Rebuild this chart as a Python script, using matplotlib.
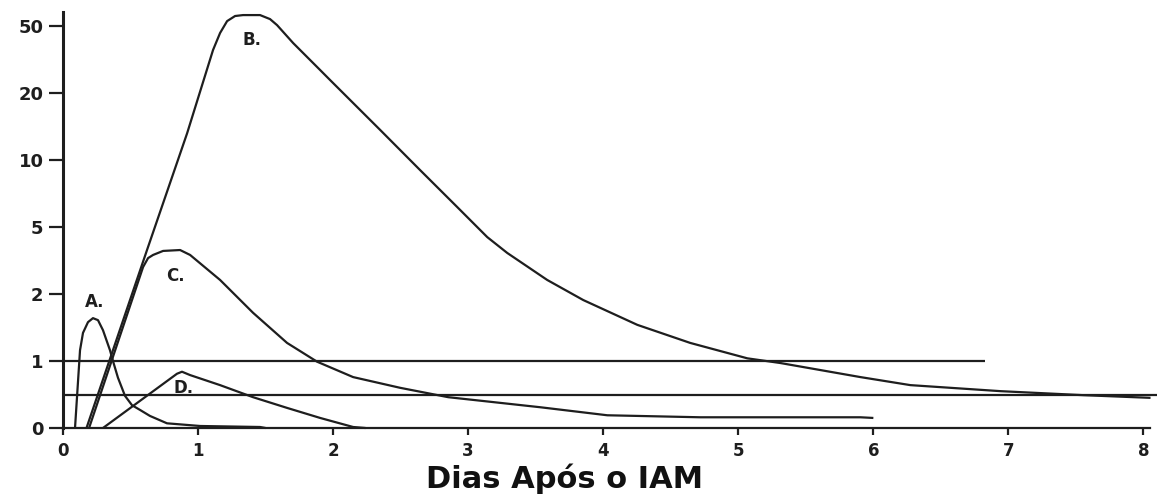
import numpy as np
import matplotlib
matplotlib.use("Agg")
import matplotlib.pyplot as plt

# ---- data (days after AMI, relative marker level) ----
a_x = [0.089, 0.126, 0.148, 0.185, 0.222, 0.259, 0.296, 0.348, 0.370, 0.407, 0.459, 0.511, 0.570, 0.644, 0.770, 1.015, 1.459, 1.50]
a_y = [0.0, 1.16, 1.42, 1.58, 1.64, 1.61, 1.46, 1.16, 1.0, 0.75, 0.48, 0.34, 0.27, 0.18, 0.07, 0.03, 0.015, 0.0]

b_x = [0.174, 0.622, 0.919, 1.111, 1.163, 1.215, 1.274, 1.333, 1.459, 1.533, 1.585, 1.704, 1.904, 1.978,
       2.348, 2.644, 2.919, 3.141, 3.289, 3.585, 3.852, 4.252, 4.644, 5.067, 5.311, 5.904, 6.274, 6.941, 7.556, 8.052]
b_y = [0.0, 3.97, 14.0, 39.3, 46.9, 53.7, 57.5, 58.2, 58.2, 55.2, 50.7, 42.4, 30.3, 25.8,
       14.5, 9.25, 6.49, 4.55, 3.84, 2.63, 1.91, 1.54, 1.27, 1.04, 0.97, 0.76, 0.64, 0.55, 0.49, 0.45]

c_x = [0.193, 0.593, 0.630, 0.667, 0.741, 0.867, 0.941, 1.163, 1.407, 1.659, 1.881, 2.148, 2.496, 2.852,
       3.533, 4.030, 4.720, 5.904, 6.0]
c_y = [0.0, 3.21, 3.61, 3.75, 3.93, 3.97, 3.75, 2.63, 1.72, 1.27, 0.99, 0.76, 0.60, 0.46,
       0.31, 0.19, 0.16, 0.16, 0.15]

d_x = [0.296, 0.844, 0.881, 0.941, 1.163, 1.407, 1.659, 1.904, 2.148, 2.24]
d_y = [0.0, 0.81, 0.84, 0.79, 0.64, 0.46, 0.30, 0.15, 0.015, 0.0]

ref1_x = [0.0, 6.83]
ref1_y = [1.0, 1.0]
ref05_x = [0.0, 8.10]
ref05_y = [0.5, 0.5]

labels = ["A.", "B.", "C.", "D."]
label_x = [0.237, 1.40, 0.83, 0.89]
label_y = [1.88, 43.7, 2.81, 0.60]

y_ticks = [0, 1, 2, 5, 10, 20, 50]
x_ticks = [0, 1, 2, 3, 4, 5, 6, 7, 8]
x_label = "Dias Após o IAM"

# ---- custom stepped scale (equal spacing for 0,1,2,5,10,20,50) ----
scale_vals = np.array([0, 1, 2, 5, 10, 20, 50, 100], dtype=float)
scale_idx = np.arange(len(scale_vals), dtype=float)

def fwd(v):
    return np.interp(v, scale_vals, scale_idx)

def inv(i):
    return np.interp(i, scale_idx, scale_vals)

W, H = 1159, 498
fig = plt.figure(figsize=(W / 100, H / 100), dpi=100)
ax = fig.add_axes([63 / W, 1 - 428 / H, (1157 - 63) / W, (428 - 12) / H])
ax.set_yscale('function', functions=(fwd, inv))

col = '#1e1e1e'
lw = 1.6
for xs, ys in [(a_x, a_y), (b_x, b_y), (c_x, c_y), (d_x, d_y),
               (ref1_x, ref1_y), (ref05_x, ref05_y)]:
    ax.plot(xs, ys, color=col, lw=lw, solid_capstyle='butt',
            solid_joinstyle='round', clip_on=False)

for t, x, y in zip(labels, label_x, label_y):
    ax.text(x, y, t, ha='center', va='center', fontsize=12, fontweight='bold',
            color=col, family='DejaVu Sans')

ax.set_xlim(0, 8.10)
ax.set_ylim(0, 60.5)
ax.set_yticks(y_ticks)
ax.set_yticklabels([str(v) for v in y_ticks])
ax.set_xticks(x_ticks)
ax.set_xticklabels([str(v) for v in x_ticks])
ax.yaxis.set_minor_locator(matplotlib.ticker.NullLocator())
ax.xaxis.set_minor_locator(matplotlib.ticker.NullLocator())

for s in ['top', 'right']:
    ax.spines[s].set_visible(False)
ax.spines['left'].set_linewidth(2.2)
ax.spines['bottom'].set_linewidth(1.6)
ax.spines['left'].set_color(col)
ax.spines['bottom'].set_color(col)
ax.spines['bottom'].set_bounds(0, 8.05)
ax.spines['left'].set_bounds(0, 60.5)

ax.tick_params(axis='y', direction='out', length=10, width=1.6, colors=col,
               labelsize=13, pad=4)
ax.tick_params(axis='x', direction='out', length=5, width=1.6, colors=col,
               labelsize=12, pad=5)
for lab in ax.get_xticklabels() + ax.get_yticklabels():
    lab.set_fontweight('bold')

fig.text(565 / W, 1 - 488 / H, x_label, ha='center', va='baseline',
         fontsize=22, fontweight='bold', color='#111111', family='DejaVu Sans')

fig.savefig('out.png', dpi=100, facecolor='white')
